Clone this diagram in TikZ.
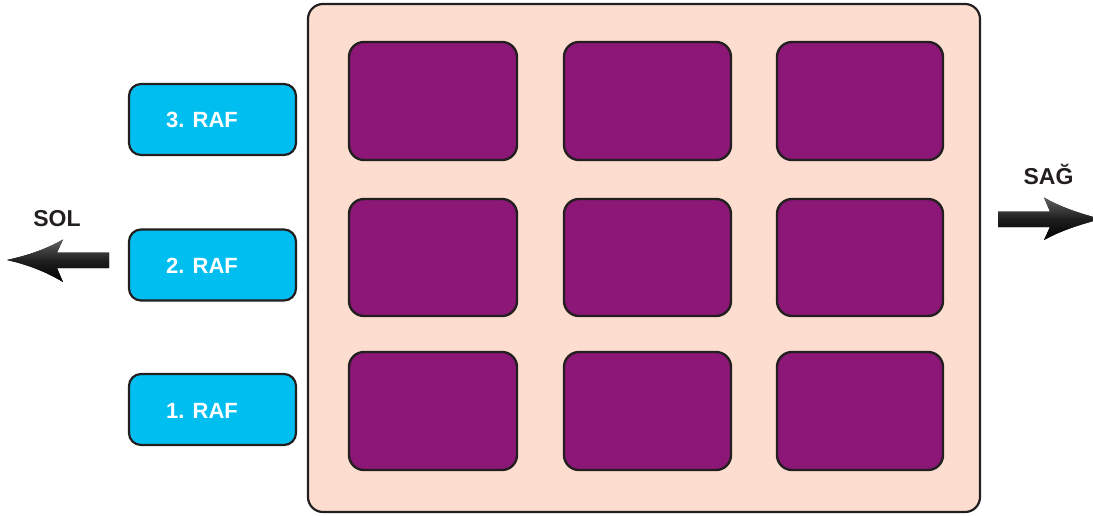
\documentclass[tikz,border=0pt]{standalone}
\usepackage{fontspec}
\setmainfont{Liberation Sans}
\definecolor{peach}{HTML}{FDDDCF}
\definecolor{plum}{HTML}{8D1777}
\definecolor{sky}{HTML}{00BEF0}
\definecolor{edge}{HTML}{231F20}
\tikzset{
  frame/.style={draw=edge, line width=2.2pt, fill=peach, rounded corners=15pt},
  cell/.style={draw=edge, line width=2.4pt, fill=plum, rounded corners=15pt},
  shelf/.style={draw=edge, line width=2.2pt, fill=sky, rounded corners=12pt},
  shelftext/.style={text=white, font=\fontsize{22}{26}\selectfont\bfseries, inner sep=0pt},
  sidetext/.style={text=edge, font=\fontsize{23}{27}\selectfont\bfseries, inner sep=0pt, anchor=base},
  bigarrow/.style={draw=none, top color=black!62, bottom color=black, middle color=black!88}
}
\begin{document}
\begin{tikzpicture}[x=1pt,y=-1pt]
\useasboundingbox (0,0) rectangle (1093,515);
% main frame
\draw[frame] (308,4) rectangle (980,512);
% cells
\foreach \cx/\cw [count=\i] in {349/517, 564/731, 777/943}{
  \foreach \ry/\rh [count=\j] in {42/160, 199/316, 352/470}{
    \draw[cell] (\cx,\ry) rectangle (\cw,\rh);
  }
}
% shelves
\node[shelf, minimum width=167pt, minimum height=71pt, inner sep=0pt] (r3) at (212.5,119.5) {};
\node[shelf, minimum width=167pt, minimum height=71pt, inner sep=0pt] (r2) at (212.5,265) {};
\node[shelf, minimum width=167pt, minimum height=71pt, inner sep=0pt] (r1) at (212.5,409.5) {};
\node[shelftext] (t3) at (202,119.5) {3. RAF};
\node[shelftext] (t2) at (202,265.5) {2. RAF};
\node[shelftext] (t1) at (202,410.5) {1. RAF};
% side labels
\node[sidetext] (sol) at (57,226.5) {SOL};
\node[sidetext] (sag) at (1048.5,184) {SAĞ};
% left arrow
\fill[bigarrow] (109,252.5) -- (57,252.5) -- (63,239.5)
  .. controls (45,250) and (25,256) .. (7,260)
  .. controls (25,264) and (45,271) .. (63,282)
  -- (57,268) -- (109,268) -- cycle;
% right arrow
\fill[bigarrow] (998,211.5) -- (1050,211.5) -- (1044,197.5)
  .. controls (1062,208) and (1082,214) .. (1101,219)
  .. controls (1082,224) and (1062,230) .. (1044,240)
  -- (1050,227) -- (998,227) -- cycle;
\end{tikzpicture}
\end{document}
